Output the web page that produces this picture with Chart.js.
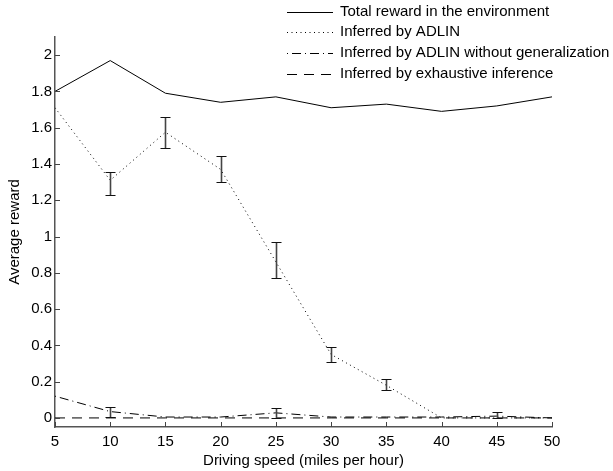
<!DOCTYPE html>
<html><head><meta charset="utf-8">
<script src="https://cdn.jsdelivr.net/npm/chart.js@4/dist/chart.umd.min.js"></script>
<style>html,body{margin:0;padding:0;background:#fff}#wrap{width:613px;height:471px}</style>
</head><body><div id="wrap"><canvas id="c" width="613" height="471"></canvas></div>
<script>
const speeds = [5, 10, 15, 20, 25, 30, 35, 40, 45, 50];
const totalReward = [1.80, 1.97, 1.79, 1.74, 1.77, 1.71, 1.73, 1.69, 1.72, 1.77];
const adlin = [1.71, 1.31, 1.575, 1.37, 0.86, 0.35, 0.18, 0.0, 0.0, 0.0];
const adlinLo = [null, 1.23, 1.49, 1.30, 0.77, 0.31, 0.155, null, null, null];
const adlinHi = [null, 1.355, 1.66, 1.445, 0.97, 0.39, 0.215, null, null, null];
const noGen = [0.12, 0.035, 0.005, 0.005, 0.028, 0.005, 0.005, 0.005, 0.01, 0.0];
const noGenLo = [null, 0.005, null, null, 0.0, null, null, null, 0.0, null];
const noGenHi = [null, 0.06, null, null, 0.055, null, null, null, 0.03, null];
const exhaustive = [0, 0, 0, 0, 0, 0, 0, 0, 0, 0];
const yTicks = [0, 0.2, 0.4, 0.6, 0.8, 1, 1.2, 1.4, 1.6, 1.8, 2];
const xTicks = [5, 10, 15, 20, 25, 30, 35, 40, 45, 50];
const legendLabels = ['Total reward in the environment', 'Inferred by ADLIN',
  'Inferred by ADLIN without generalization', 'Inferred by exhaustive inference'];
const dashes = [[], [1, 3.5], [1, 4, 9, 4], [10, 7]];

const FONT = "'Liberation Sans', Arial, sans-serif";
const pts = arr => speeds.map((x, i) => ({x, y: arr[i]}));

function ds(label, arr, dash, lo, hi) {
  return {label, data: pts(arr), borderColor: '#000', borderWidth: 1, borderDash: dash,
    pointRadius: 0, fill: false, tension: 0, errLo: lo, errHi: hi};
}

const errPlugin = {
  id: 'err',
  afterDatasetsDraw(chart) {
    const {ctx, scales: {x, y}} = chart;
    ctx.save();
    chart.data.datasets.forEach(d => {
      if (!d.errLo) return;
      speeds.forEach((s, i) => {
        if (d.errLo[i] == null) return;
        const px = Math.round(x.getPixelForValue(s)) + 0.5;
        const p1 = Math.round(y.getPixelForValue(d.errLo[i])) + 0.5, p2 = Math.round(y.getPixelForValue(d.errHi[i])) + 0.5;
        ctx.setLineDash([]);
        ctx.strokeStyle = '#444'; ctx.lineWidth = 1.6;
        ctx.beginPath(); ctx.moveTo(px, p1); ctx.lineTo(px, p2); ctx.stroke();
        ctx.strokeStyle = '#111'; ctx.lineWidth = 1.2;
        ctx.beginPath();
        ctx.moveTo(px - 5, p1); ctx.lineTo(px + 5, p1);
        ctx.moveTo(px - 5, p2); ctx.lineTo(px + 5, p2); ctx.stroke();
      });
    });
    ctx.restore();
  }
};

const tickPlugin = {
  id: 'inTicks',
  afterDraw(chart) {
    const {ctx, scales: {x, y}, chartArea: a} = chart;
    ctx.save(); ctx.strokeStyle = '#444'; ctx.lineWidth = 1; ctx.setLineDash([]);
    ctx.beginPath();
    yTicks.forEach(v => { const py = Math.round(y.getPixelForValue(v)) + 0.5; ctx.moveTo(a.left, py); ctx.lineTo(a.left + 5, py); });
    xTicks.forEach(v => { const px = Math.round(x.getPixelForValue(v)) + 0.5; ctx.moveTo(px, a.bottom); ctx.lineTo(px, a.bottom - 5); });
    ctx.stroke();
    // legend
    const rows = [12, 32, 53, 74];
    ctx.font = '15px ' + FONT; ctx.fillStyle = '#000'; ctx.textBaseline = 'middle'; ctx.textAlign = 'left';
    legendLabels.forEach((t, i) => {
      ctx.strokeStyle = '#000'; ctx.setLineDash(dashes[i]);
      ctx.beginPath(); ctx.moveTo(287, rows[i] + 0.5); ctx.lineTo(333, rows[i] + 0.5); ctx.stroke();
      ctx.fillText(t, 340, rows[i]);
    });
    ctx.restore();
  }
};

new Chart(document.getElementById('c'), {
  type: 'line',
  data: {datasets: [
    ds(legendLabels[0], totalReward, dashes[0]),
    ds(legendLabels[1], adlin, dashes[1], adlinLo, adlinHi),
    ds(legendLabels[2], noGen, dashes[2], noGenLo, noGenHi),
    ds(legendLabels[3], exhaustive, dashes[3])
  ]},
  options: {
    responsive: false, animation: false, devicePixelRatio: 1,
    layout: {padding: {left: 0, top: 37, right: 61, bottom: 0}},
    plugins: {legend: {display: false}, tooltip: {enabled: false}},
    scales: {
      x: {type: 'linear', min: 5, max: 50,
        afterBuildTicks: s => { s.ticks = xTicks.map(v => ({value: v})); },
        afterFit: s => { s.height = 44; },
        grid: {drawOnChartArea: false, drawTicks: false},
        border: {color: '#555', width: 1.5},
        ticks: {padding: 6, color: '#000', font: {family: FONT, size: 15}, maxRotation: 0, autoSkip: false},
        title: {display: true, text: 'Driving speed (miles per hour)', color: '#000', font: {family: FONT, size: 15}, padding: {top: 0, bottom: 1}}
      },
      y: {min: -0.05, max: 2.1,
        afterBuildTicks: s => { s.ticks = yTicks.map(v => ({value: v})); },
        afterFit: s => { s.width = 55; },
        grid: {drawOnChartArea: false, drawTicks: false},
        border: {color: '#555', width: 1.5},
        ticks: {padding: 3, color: '#000', font: {family: FONT, size: 15}, callback: v => String(Math.round(v * 10) / 10)},
        title: {display: true, text: 'Average reward', color: '#000', font: {family: FONT, size: 15}, padding: {top: 6, bottom: 0}}
      }
    }
  },
  plugins: [errPlugin, tickPlugin]
});
</script></body></html>
